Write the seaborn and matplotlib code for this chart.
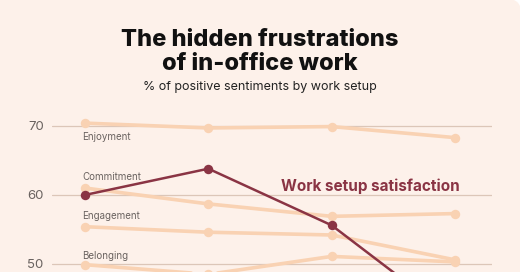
import matplotlib
matplotlib.use("Agg")
import matplotlib.pyplot as plt
from matplotlib.patches import Circle, Rectangle
import pandas as pd
import seaborn as sns

# Data (values in %)
setups = ["Fully remote", "Mostly remote", "Mostly in-office", "Fully in-office"]
enjoyment = [70.4, 69.7, 69.9, 68.3]
commitment = [61.0, 58.7, 56.9, 57.3]
engagement = [55.4, 54.6, 54.2, 50.6]
belonging = [49.9, 48.5, 51.1, 50.3]
satisfaction = [60.0, 63.8, 55.6, 42.0]
yticks = [50, 60, 70]

BG = "#fdf1ea"
PEACH = "#f9d2b3"
MAROON = "#8a3444"
GREY = "#6a6360"
GRID = "#dcc6b8"

light = pd.DataFrame({
    "setup": setups * 4,
    "value": enjoyment + commitment + engagement + belonging,
    "metric": ["Enjoyment"] * 4 + ["Commitment"] * 4 + ["Engagement"] * 4 + ["Belonging"] * 4,
})
dark = pd.DataFrame({"setup": setups, "value": satisfaction})

sns.set_style("white")
plt.rcParams["font.family"] = ["Inter", "DejaVu Sans"]

fig = plt.figure(figsize=(5.2, 2.72), dpi=100, facecolor="white")
# card background with rounded top-right corner
fig.add_artist(Rectangle((0, 0), 1, 1, transform=fig.transFigure, color=BG, zorder=-10))
fig.add_artist(Rectangle((5.1, 2.62), 0.1, 0.1, transform=fig.dpi_scale_trans,
                         color="white", zorder=-9))
fig.add_artist(Circle((5.1, 2.62), 0.1, transform=fig.dpi_scale_trans,
                      color=BG, zorder=-8))

ax = fig.add_axes([52 / 520, 0, 440 / 520, 162 / 272])
ax.set_facecolor("none")

for y in yticks:
    ax.axhline(y, color=GRID, lw=0.9, zorder=0)

sns.lineplot(data=light, x="setup", y="value", units="metric", estimator=None,
             color=PEACH, lw=2.6, marker="o", markersize=6.8, markeredgewidth=0,
             ax=ax, legend=False, zorder=2)
sns.lineplot(data=dark, x="setup", y="value", color=MAROON, lw=1.8,
             marker="o", markersize=6.8, markeredgewidth=0, ax=ax,
             legend=False, zorder=3)

ax.set_xlim(-0.268, 3.30)
ax.set_ylim(48.84, 72.3)
ax.set_xticks([])
ax.set_yticks(yticks)
ax.set_yticklabels([str(t) for t in yticks], color=GREY, fontsize=9.5)
ax.tick_params(axis="y", length=0, pad=6)
ax.set_xlabel("")
ax.set_ylabel("")
sns.despine(ax=ax, left=True, bottom=True)

# series labels
labels = {"Enjoyment": enjoyment[0] - 2.0, "Commitment": 62.6,
          "Engagement": 56.9, "Belonging": 51.2}
for name, yv in labels.items():
    ax.text(-0.02, yv, name, color=GREY, fontsize=7, va="center", ha="left")
ax.text(1.59, 61.3, "Work setup satisfaction", color=MAROON, fontsize=11,
        fontweight="bold", va="center", ha="left")

fig.text(0.5, 0.81, "The hidden frustrations\nof in-office work", ha="center",
         va="center", fontsize=17, fontweight="heavy", linespacing=1.12,
         color="#111111")
fig.text(0.5, 0.68, "% of positive sentiments by work setup", ha="center",
         va="center", fontsize=9, color="#222222")

fig.savefig("out.png", dpi=100)
